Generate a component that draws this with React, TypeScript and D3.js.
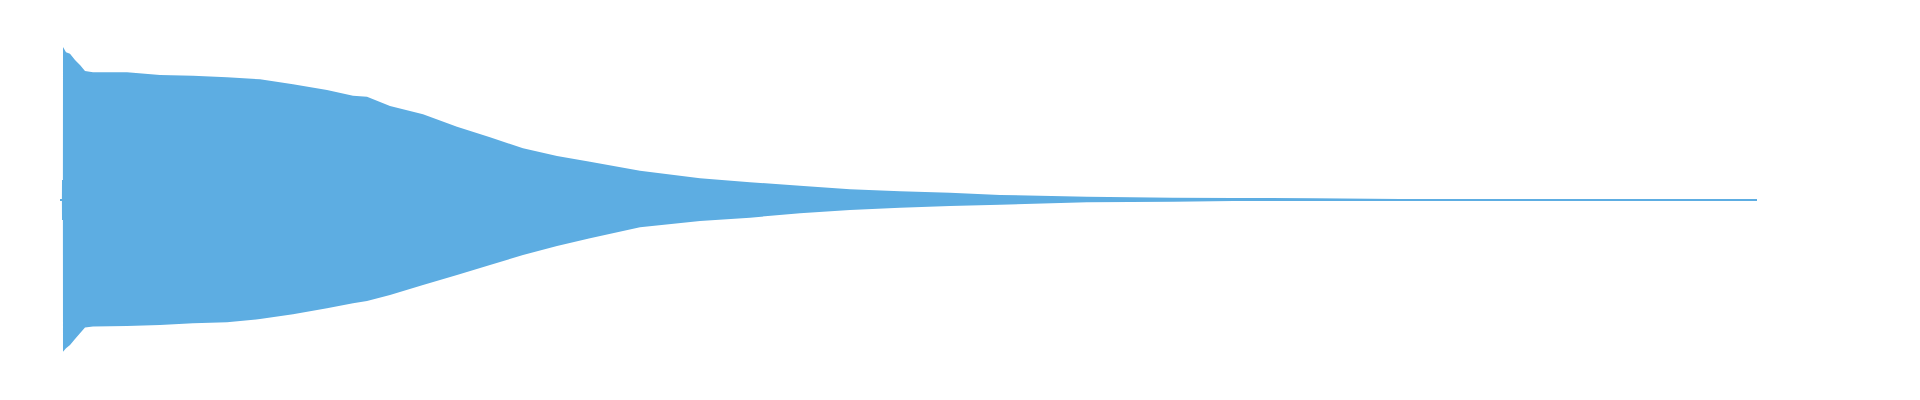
import React, { useMemo } from "react";
import * as d3 from "d3";

// Waveform envelope (time in seconds)
const times = [
  0, 0.0095, 0.01, 0.0145, 0.015, 0.03, 0.05, 0.075, 0.1, 0.125, 0.165, 0.335, 0.5, 0.665, 0.835,
  1.0, 1.165, 1.335, 1.465, 1.535, 1.65, 1.815, 1.985, 2.15, 2.315, 2.485, 2.65, 2.9, 3.2, 3.45,
  3.7, 3.95, 4.2, 4.45, 4.7, 5.135, 5.565, 5.865, 6.265, 6.7, 8.485,
];
const maxAmp = [
  0.003, 0.003, 0.128, 0.128, 1.0, 0.965, 0.955, 0.915, 0.882, 0.843, 0.834, 0.834, 0.816, 0.812, 0.801,
  0.788, 0.755, 0.718, 0.681, 0.674, 0.613, 0.559, 0.477, 0.408, 0.336, 0.285, 0.248, 0.189, 0.139, 0.113,
  0.09, 0.067, 0.054, 0.044, 0.03, 0.018, 0.012, 0.01, 0.008, 0.003, 0.003,
];
const minAmp = [
  -0.01, -0.01, -0.134, -0.134, -0.998, -0.975, -0.954, -0.915, -0.877, -0.839, -0.833, -0.83, -0.823, -0.812, -0.805,
  -0.784, -0.753, -0.713, -0.681, -0.666, -0.626, -0.561, -0.495, -0.43, -0.364, -0.305, -0.254, -0.182, -0.141, -0.119,
  -0.09, -0.069, -0.054, -0.043, -0.034, -0.018, -0.014, -0.01, -0.01, -0.01, -0.01,
];

const WIDTH = 1920;
const HEIGHT = 400;
const COLOR = "#5DADE2";

export default function App() {
  const path = useMemo(() => {
    const x = d3.scaleLinear().domain([0, 8.485]).range([60, 1757]);
    const y = d3.scaleLinear().domain([-1, 1]).range([352, 47]);
    const data = times.map((t, i) => ({ t, hi: maxAmp[i], lo: minAmp[i] }));
    const area = d3
      .area<{ t: number; hi: number; lo: number }>()
      .x((d) => x(d.t))
      .y0((d) => y(d.lo))
      .y1((d) => y(d.hi))
      .curve(d3.curveLinear);
    return area(data) || "";
  }, []);

  return (
    <svg
      width={WIDTH}
      height={HEIGHT}
      style={{ position: "absolute", left: 0, top: 0, background: "#ffffff" }}
    >
      <path d={path} fill={COLOR} stroke="none" />
    </svg>
  );
}
